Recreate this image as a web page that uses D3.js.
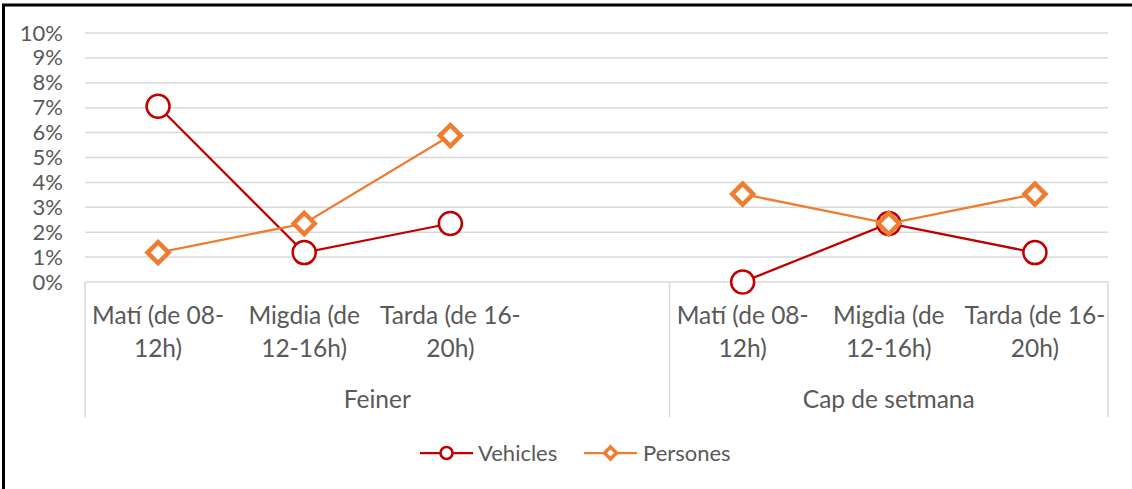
<!DOCTYPE html>
<html>
<head>
<meta charset="utf-8">
<script src="https://cdn.jsdelivr.net/npm/d3@7"></script>
<style>
  body { margin: 0; background: #fff; }
  svg text { font-family: Lato, "Open Sans", sans-serif; fill: #595959; }
</style>
</head>
<body>
<script>
const width = 1132, height = 489;

// data
const groups = ["Feiner", "Cap de setmana"];
const groupSizes = [4, 3];
const periods = [["Matí (de 08-", "12h)"], ["Migdia (de", "12-16h)"], ["Tarda (de 16-", "20h)"], []];
const categories = ["F1", "F2", "F3", "F4", "C1", "C2", "C3"];
const catLabels = [periods[0], periods[1], periods[2], periods[3], periods[0], periods[1], periods[2]];
const vehicles = [7.06, 1.18, 2.35, null, 0, 2.35, 1.18];
const persones = [1.18, 2.35, 5.88, null, 3.53, 2.35, 3.53];
const yTicks = [0, 1, 2, 3, 4, 5, 6, 7, 8, 9, 10];

const m = { left: 85, right: 1108, top: 33, bottom: 282 };

const svg = d3.select("body").append("svg")
    .attr("width", width)
    .attr("height", height);

// frame (left + top only visible)
svg.append("line").attr("x1", 3.5).attr("x2", 3.5).attr("y1", 4).attr("y2", height)
    .attr("stroke", "#000").attr("stroke-width", 3);
svg.append("line").attr("x1", 2).attr("x2", width).attr("y1", 5).attr("y2", 5)
    .attr("stroke", "#000").attr("stroke-width", 3);

const x = d3.scaleBand().domain(categories).range([m.left, m.right]);
const y = d3.scaleLinear().domain([0, 10]).range([m.bottom, m.top]);
const cx = i => x(categories[i]) + x.bandwidth() / 2;

// gridlines
svg.append("g")
  .selectAll("line")
  .data(yTicks)
  .enter().append("line")
    .attr("x1", m.left).attr("x2", m.right)
    .attr("y1", d => y(d)).attr("y2", d => y(d))
    .attr("stroke", "#d9d9d9").attr("stroke-width", 1.5);

// y axis labels
const yAxis = svg.append("g")
    .attr("transform", `translate(${m.left - 22},0)`)
    .call(d3.axisLeft(y).tickValues(yTicks).tickFormat(d => d + "%").tickSize(0));
yAxis.select(".domain").remove();
yAxis.selectAll("text").attr("font-size", 22).style("font-family", "Lato, sans-serif").attr("fill", "#595959").attr("x", 0);

// category axis box
const axisBottom = 417;
let start = 0;
const sepX = [m.left];
groupSizes.forEach(n => { start += n; sepX.push(start < categories.length ? x(categories[start]) : m.right); });
svg.append("g")
  .selectAll("line")
  .data(sepX)
  .enter().append("line")
    .attr("x1", d => d).attr("x2", d => d)
    .attr("y1", m.bottom).attr("y2", axisBottom)
    .attr("stroke", "#d9d9d9").attr("stroke-width", 1.5);

// category labels
const lab = svg.append("g");
catLabels.forEach((lines, i) => {
  const t = lab.append("text")
      .attr("text-anchor", "middle")
      .attr("font-size", 24.5);
  lines.forEach((s, j) => {
    t.append("tspan").attr("x", cx(i)).attr("y", 324 + j * 33).text(s);
  });
});

// group labels
groups.forEach((g, gi) => {
  const x0 = sepX[gi], x1 = sepX[gi + 1];
  lab.append("text")
      .attr("x", (x0 + x1) / 2).attr("y", 408)
      .attr("text-anchor", "middle")
      .attr("font-size", 24.5)
      .text(g);
});

// series
const series = [
  { name: "Vehicles", values: vehicles, color: "#C00000", marker: "circle" },
  { name: "Persones", values: persones, color: "#ED7D31", marker: "diamond" }
];

const line = d3.line()
    .defined(d => d.v !== null)
    .x(d => cx(d.i))
    .y(d => y(d.v));

function drawMarker(g, type, px, py, color, size) {
  if (type === "circle") {
    g.append("circle").attr("cx", px).attr("cy", py).attr("r", size)
      .attr("fill", "#fff").attr("stroke", color).attr("stroke-width", 2.5);
  } else {
    const s = size;
    g.append("path")
      .attr("d", `M${px},${py - s}L${px + s},${py}L${px},${py + s}L${px - s},${py}Z`)
      .attr("fill", "#fff").attr("stroke", color).attr("stroke-width", 4.5)
      .attr("stroke-linejoin", "miter");
  }
}

series.forEach(s => {
  const pts = s.values.map((v, i) => ({ i, v }));
  // break lines between groups
  const segs = [pts.slice(0, 4), pts.slice(4)];
  const g = svg.append("g");
  segs.forEach(seg => {
    g.append("path")
      .datum(seg)
      .attr("fill", "none")
      .attr("stroke", s.color)
      .attr("stroke-width", 2.25)
      .attr("d", line);
  });
  pts.filter(d => d.v !== null).forEach(d => {
    drawMarker(g, s.marker, cx(d.i), y(d.v), s.color, s.marker === "circle" ? 11.5 : 10.5);
  });
});

// legend
const legend = svg.append("g");
const legendItems = [
  { s: series[0], x0: 420, tx: 478 },
  { s: series[1], x0: 584, tx: 643 }
];
legendItems.forEach(it => {
  const ly = 453;
  legend.append("line").attr("x1", it.x0).attr("x2", it.x0 + 53)
    .attr("y1", ly).attr("y2", ly)
    .attr("stroke", it.s.color).attr("stroke-width", 2.25);
  if (it.s.marker === "circle") {
    legend.append("circle").attr("cx", it.x0 + 26.5).attr("cy", ly).attr("r", 6)
      .attr("fill", "#fff").attr("stroke", it.s.color).attr("stroke-width", 2.5);
  } else {
    const px = it.x0 + 26.5, s = 6;
    legend.append("path")
      .attr("d", `M${px},${ly - s}L${px + s},${ly}L${px},${ly + s}L${px - s},${ly}Z`)
      .attr("fill", "#fff").attr("stroke", it.s.color).attr("stroke-width", 3.5);
  }
  legend.append("text").attr("x", it.tx).attr("y", ly + 7.5)
    .attr("font-size", 22).text(it.s.name);
});
</script>
</body>
</html>
